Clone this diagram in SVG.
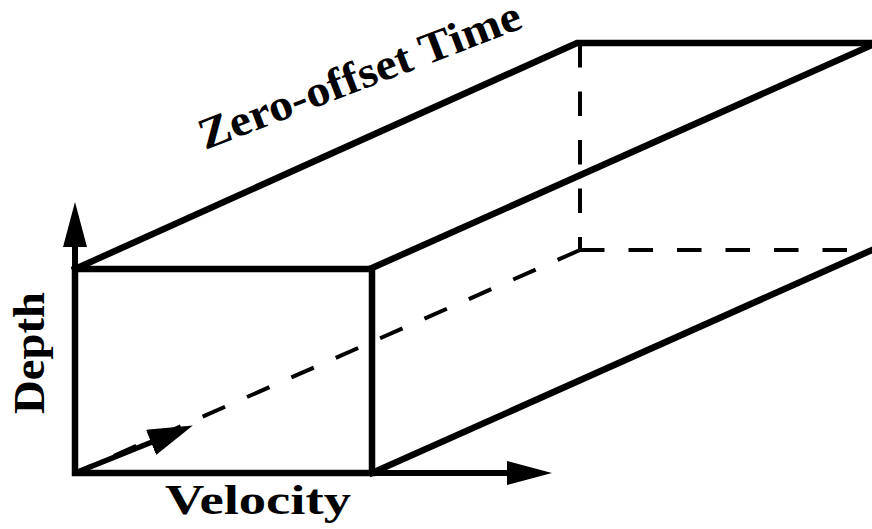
<svg xmlns="http://www.w3.org/2000/svg" width="872" height="529" viewBox="0 0 872 529">
<style>
.solid{fill:none;stroke:#000;stroke-width:6.5;stroke-linejoin:miter;stroke-linecap:square}
.dash{fill:none;stroke:#000;stroke-width:4;stroke-dasharray:24.5 24}
.axis{fill:none;stroke:#000;stroke-width:6}
.lbl{font-family:"Liberation Serif","Times New Roman",serif;font-weight:bold;fill:#000}
</style>
<defs>
<marker id="ah" markerUnits="userSpaceOnUse" viewBox="0 0 45 24" refX="1" refY="12" markerWidth="45" markerHeight="24" orient="auto">
<path d="M0,0 L45,12 L0,24 Z" fill="#000"/>
</marker>
<marker id="ah2" markerUnits="userSpaceOnUse" viewBox="0 0 45 27" refX="1" refY="13.5" markerWidth="45" markerHeight="27" orient="auto">
<path d="M0,0 L45,13.5 L0,27 Z" fill="#000"/>
</marker>
</defs>
<rect width="872" height="529" fill="#fff"/>
<g id="hidden-edges">
<path class="dash" d="M580,43 L580,250"/>
<path class="dash" d="M580,250 L872,250"/>
<path class="dash" d="M580,250 L75,473"/>
</g>
<g id="box">
<rect class="solid" x="75" y="269" width="297" height="204"/>
<polyline class="solid" points="75,269 577,43 872,43"/>
<line class="solid" x1="372" y1="268" x2="872" y2="45"/>
<line class="solid" x1="372" y1="473" x2="872" y2="250"/>
</g>
<g id="axes">
<line class="axis" x1="75" y1="476" x2="75" y2="246" marker-end="url(#ah)"/>
<line class="axis" x1="72" y1="473" x2="508" y2="473" marker-end="url(#ah)"/>
<line class="axis" style="stroke-width:5.5" x1="75" y1="473" x2="152" y2="442" marker-end="url(#ah2)"/>
</g>
<g id="labels">
<text class="lbl" font-size="44" transform="translate(205,150) rotate(-21)" textLength="342" lengthAdjust="spacingAndGlyphs">Zero-offset Time</text>
<text class="lbl" font-size="44" transform="translate(44,414) rotate(-90)" textLength="122" lengthAdjust="spacingAndGlyphs">Depth</text>
<text class="lbl" font-size="42" x="165" y="514" textLength="186" lengthAdjust="spacingAndGlyphs">Velocity</text>
</g>
</svg>
